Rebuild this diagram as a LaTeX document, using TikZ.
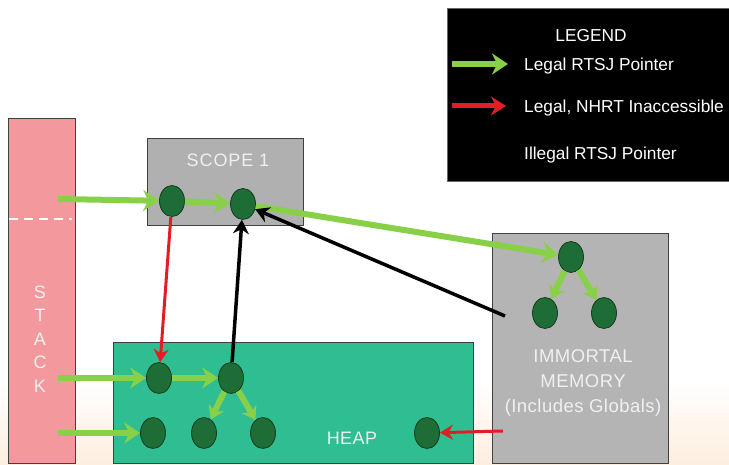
\documentclass[tikz,border=0pt]{standalone}
\usepackage{fontspec}
\setmainfont{Liberation Sans}
\newfontfamily\spacedfont[LetterSpace=5]{Liberation Sans}
\newfontfamily\lightspaced[LetterSpace=2.5]{Liberation Sans}
\usetikzlibrary{shapes.geometric,arrows.meta}
\definecolor{stackpink}{RGB}{243,152,156}
\definecolor{scopegray}{RGB}{176,176,176}
\definecolor{immgray}{RGB}{180,180,180}
\definecolor{heapteal}{RGB}{46,190,146}
\definecolor{objgreen}{RGB}{30,108,54}
\definecolor{objedge}{RGB}{20,60,30}
\definecolor{arrgreen}{RGB}{136,208,72}
\definecolor{arrred}{RGB}{226,30,36}
\definecolor{peach}{RGB}{253,238,222}
\definecolor{txtwhite}{RGB}{240,240,240}
\tikzset{
  region/.style={draw=black!75, line width=1pt, anchor=north west, inner sep=0pt},
  obj/.style={ellipse, draw=objedge, fill=objgreen, line width=0.8pt, minimum width=25pt, minimum height=31pt, inner sep=0pt},
  lbl/.style={text=txtwhite, font=\fontsize{18}{20}\selectfont, inner sep=0pt, align=center},
  legtxt/.style={text=white, font=\fontsize{17.3}{19}\selectfont, inner sep=0pt, anchor=west},
  garrow/.style={draw=arrgreen, line width=6pt, -{Stealth[length=16pt,width=21pt]}},
  rarrow/.style={draw=arrred, line width=3pt, -{Stealth[length=13pt,width=15pt]}},
  karrow/.style={draw=black, line width=3.5pt, -{Stealth[length=14pt,width=16pt]}}
}
\begin{document}
\begin{tikzpicture}[x=1pt,y=-1pt]
\useasboundingbox (0,0) rectangle (729,465);
\fill[white] (0,0) rectangle (729,465);
\shade[top color=white, bottom color=peach] (0,380) rectangle (729,465);

% legend
\node[region, fill=black, draw=black!60, minimum width=282pt, minimum height=173pt] (legend) at (447,8) {};
\node[legtxt, anchor=center] (legtitle) at (591,36) {LEGEND};
\coordinate (lg1) at (452,64);
\coordinate (lg2) at (508,64);
\coordinate (lr1) at (452,106);
\coordinate (lr2) at (506,106);
\draw[garrow] (lg1) -- (lg2);
\draw[rarrow, line width=5pt, -{Stealth[length=15pt,width=19pt]}] (lr1) -- (lr2);
\node[legtxt] (leg1) at (524,66) {Legal RTSJ Pointer};
\node[legtxt] (leg2) at (524,108) {Legal, NHRT Inaccessible};
\node[legtxt] (leg3) at (524,155) {Illegal RTSJ Pointer};

% stack
\node[region, fill=stackpink, minimum width=67pt, minimum height=345pt] (stack) at (8,118) {};
\coordinate (dash1) at (9,219);
\coordinate (dash2) at (72,219);
\draw[white, line width=2pt, dash pattern=on 9pt off 6pt] (dash1) -- (dash2);
\node[lbl, font=\fontsize{18}{23.5}\selectfont] (stacktxt) at (40,339) {S\\T\\A\\C\\K};

% scope 1
\node[region, fill=scopegray, minimum width=156pt, minimum height=87pt] (scope) at (147,138) {};
\node[lbl, font=\spacedfont\fontsize{18}{20}\selectfont] (scopetxt) at (228,160) {SCOPE 1};

% heap
\node[region, fill=heapteal, minimum width=360pt, minimum height=121pt] (heap) at (113,342) {};
\node[lbl, font=\lightspaced\fontsize{18}{20}\selectfont] (heaptxt) at (352,438) {HEAP};

% immortal
\node[region, fill=immgray, minimum width=176pt, minimum height=230pt] (imm) at (492,233) {};
\node[lbl, font=\lightspaced\fontsize{18.5}{25}\selectfont] (immtxt) at (583,383) {IMMORTAL\\MEMORY\\(Includes Globals)};

% objects
\node[obj] (s1) at (172,201) {};
\node[obj] (s2) at (243,204) {};
\node[obj] (h1) at (159,378) {};
\node[obj] (h2) at (231,378) {};
\node[obj] (h3) at (153,433) {};
\node[obj] (h4) at (204,433) {};
\node[obj] (h5) at (263,433) {};
\node[obj] (h6) at (427,433) {};
\node[obj] (i1) at (571,257) {};
\node[obj] (i2) at (545,313) {};
\node[obj] (i3) at (604,313) {};

% connector start points
\coordinate (st1) at (58,199);
\coordinate (st2) at (58,378);
\coordinate (st3) at (58,433);
\coordinate (ks) at (505,316);
\coordinate (rs) at (503,431);

% green (legal)
\draw[garrow] (st1) -- (s1);
\draw[garrow] (s1) -- (s2);
\draw[garrow] (s2) -- (i1);
\draw[garrow] (st2) -- (h1);
\draw[garrow] (st3) -- (h3);
\draw[garrow] (h1) -- (h2);
\draw[garrow, -{Stealth[length=13pt,width=17pt]}] (h2) -- (h4);
\draw[garrow, -{Stealth[length=13pt,width=17pt]}] (h2) -- (h5);
\draw[garrow, -{Stealth[length=13pt,width=17pt]}] (i1) -- (i2);
\draw[garrow, -{Stealth[length=13pt,width=17pt]}] (i1) -- (i3);

% red (NHRT inaccessible)
\draw[rarrow] (s1) -- (h1);
\draw[rarrow] (rs) -- (h6);

% black (illegal)
\draw[karrow] (h2) -- (s2);
\draw[karrow] (ks) -- (s2);
\end{tikzpicture}
\end{document}
